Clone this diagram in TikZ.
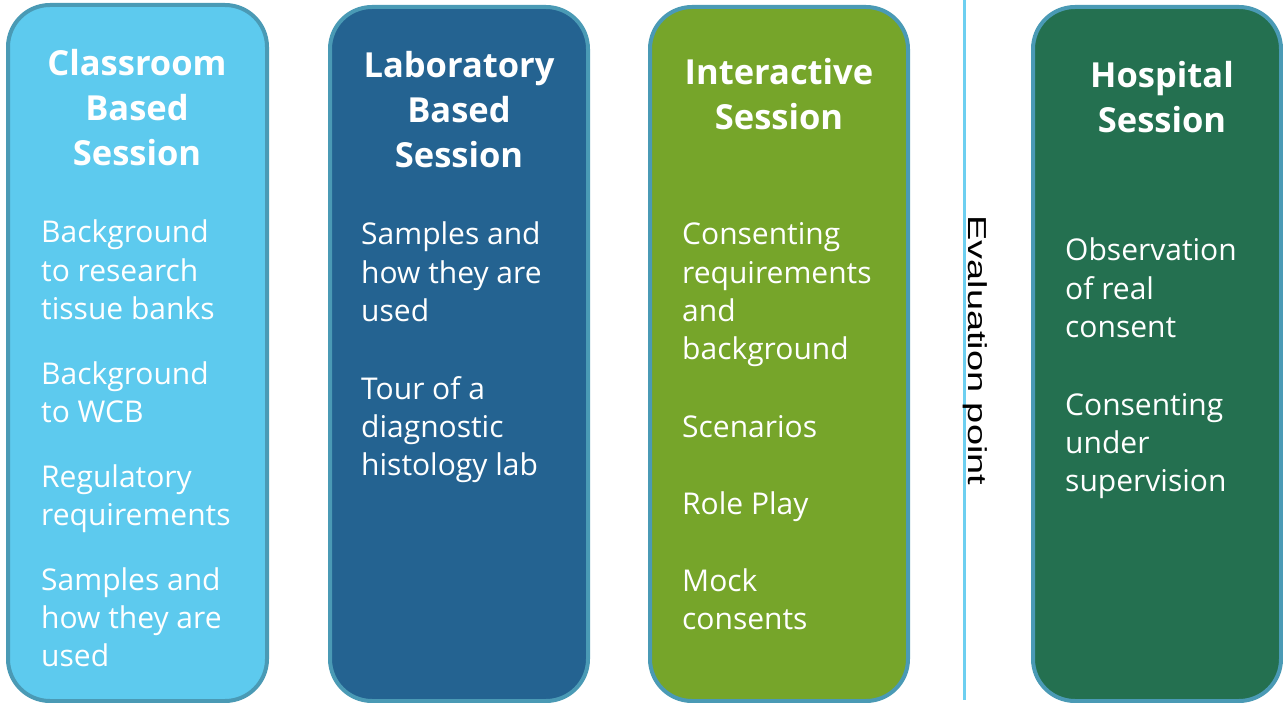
\documentclass[tikz,border=0pt]{standalone}
\usepackage{fontspec}
\setmainfont{Open Sans}
\newfontfamily\evalfont{Liberation Sans}
\definecolor{cA}{HTML}{5DCAEE}
\definecolor{cB}{HTML}{246391}
\definecolor{cC}{HTML}{76A52A}
\definecolor{cD}{HTML}{247050}
\definecolor{edge}{HTML}{4A9AB5}
\definecolor{sep}{HTML}{6DCFF0}
\begin{document}
\begin{tikzpicture}[x=1pt,y=-1pt,
  box/.style={draw=edge, line width=4pt, rounded corners=42pt, inner sep=0pt},
  ttl/.style={text=white, inner sep=0pt, font=\fontsize{34.5}{45}\selectfont\bfseries, align=center, anchor=base},
  bod/.style={text=white, inner sep=0pt, font=\fontsize{30}{38.3}\selectfont, align=left, anchor=base west}]
\useasboundingbox (0,0) rectangle (1283,703);
\fill[white] (0,0) rectangle (1283,703);
% boxes
\path[box, fill=cA] (8,5) rectangle (267,701);
\path[box, fill=cB] (330,7) rectangle (588,701);
\path[box, fill=cC] (650,7) rectangle (908,701);
\path[box, fill=cD] (1033,7) rectangle (1281,701);
% separator
\coordinate (sTop) at (964,0);
\coordinate (sBot) at (964,700);
\draw[sep, line width=3pt] (sTop) -- (sBot);
\node[rotate=-90, anchor=base west, inner sep=0pt, font=\evalfont\fontsize{26}{30}\selectfont] (eval) at (968,215) {\scalebox{1.46}[1]{Evaluation point}};
% box 1 (anchors at the baseline of each text's last line)
\node[ttl] (t1) at (137,166) {Classroom\\Based\\Session};
\node[bod] (p11) at (41,319.6) {Background\\to research\\tissue banks};
\node[bod] (p12) at (41,422.3) {Background\\to WCB};
\node[bod] (p13) at (41,525.3) {Regulatory\\requirements};
\node[bod] (p14) at (41,666.6) {Samples and\\how they are\\used};
% box 2
\node[ttl] (t2) at (459,168) {Laboratory\\Based\\Session};
\node[bod] (p21) at (361,321.6) {Samples and\\how they are\\used};
\node[bod] (p22) at (361,475.6) {Tour of a\\diagnostic\\histology lab};
% box 3
\node[ttl] (t3) at (779,130) {Interactive\\Session};
\node[bod] (p31) at (682,359.9) {Consenting\\requirements\\and\\background};
\node[bod] (p32) at (682,437) {Scenarios};
\node[bod] (p33) at (682,514) {Role Play};
\node[bod] (p34) at (682,629.3) {Mock\\consents};
% box 4
\node[ttl] (t4) at (1162,133) {Hospital\\Session};
\node[bod] (p41) at (1065,337.6) {Observation\\of real\\consent};
\node[bod] (p42) at (1065,491.6) {Consenting\\under\\supervision};
\end{tikzpicture}
\end{document}
